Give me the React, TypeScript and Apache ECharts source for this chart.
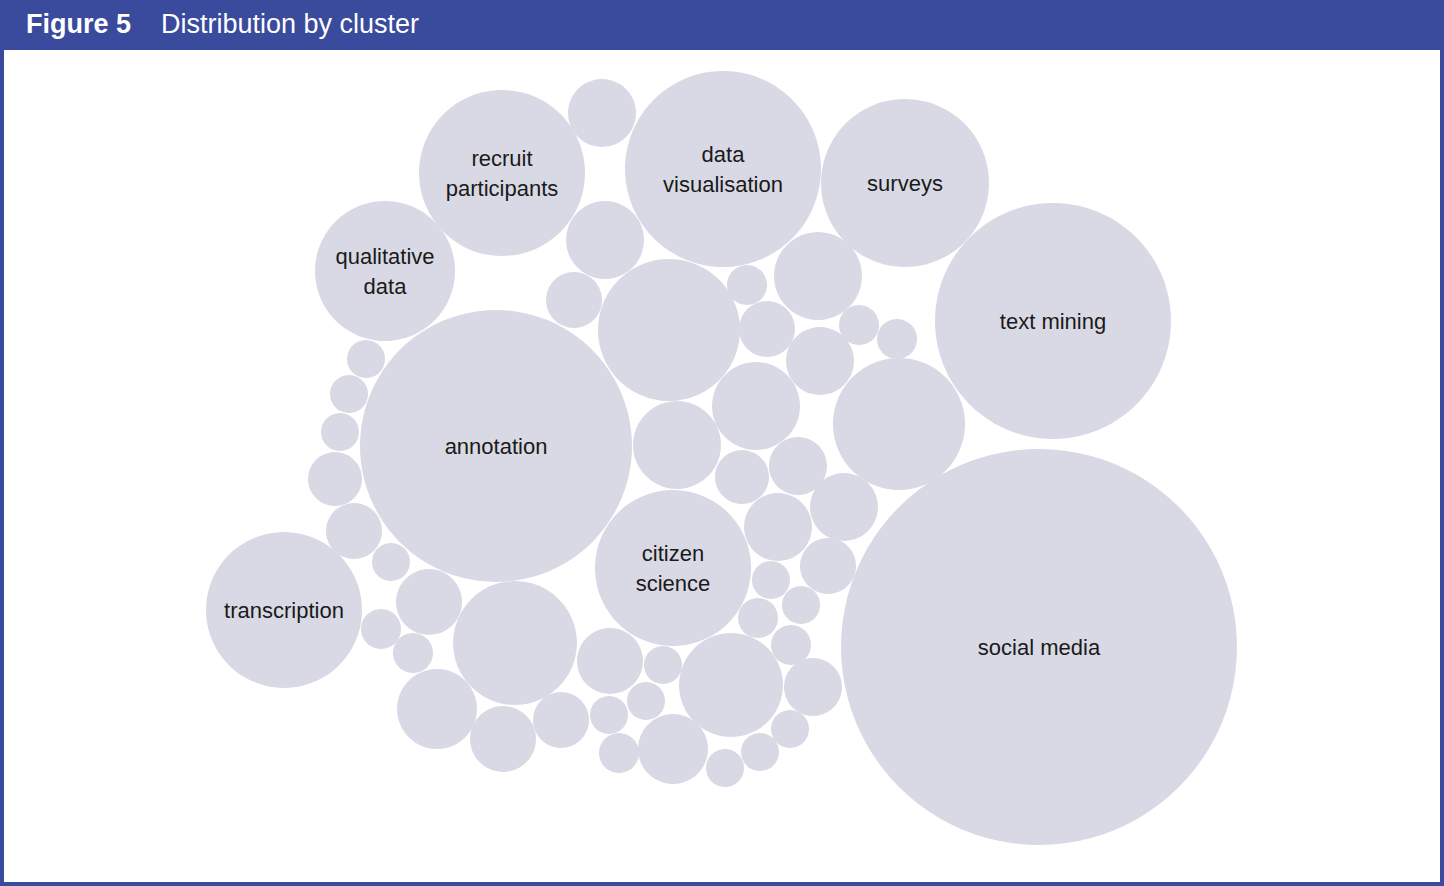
import React, { useEffect, useRef } from 'react';
import * as echarts from 'echarts';

// cluster bubbles: centre (x, y) in chart units, diameter in px
const names = [
  'recruit\nparticipants', '', 'data\nvisualisation', 'surveys', 'qualitative\ndata',
  '', '', '', '', '', '', '', '', '', 'text mining', 'annotation',
  '', '', '', '', '', '', '', '', '', '', '', '', '', 'citizen\nscience',
  '', '', '', '', 'transcription', '', '', '', '', '', '', '', '', '', '', '', '',
  '', '', '', '', '', '', '', 'social media',
];
const xs = [
  502, 602, 723, 905, 385, 605, 574, 669, 747, 818, 767, 859, 897, 820, 1053, 496,
  366, 349, 340, 335, 899, 756, 677, 742, 798, 844, 778, 354, 391, 673,
  828, 771, 801, 758, 284, 429, 381, 413, 515, 610, 663, 731, 791, 813, 646, 609, 437,
  503, 561, 619, 673, 725, 760, 790, 1039,
];
const ys = [
  173, 113, 169, 183, 271, 240, 300, 330, 285, 276, 329, 325, 339, 361, 321, 446,
  359, 394, 432, 479, 424, 406, 445, 477, 466, 507, 527, 531, 562, 568,
  566, 580, 605, 618, 610, 602, 629, 653, 643, 661, 665, 685, 645, 687, 701, 715, 709,
  739, 720, 753, 749, 768, 752, 729, 647,
];
const diameters = [
  166, 68, 196, 168, 140, 78, 56, 142, 40, 88, 56, 40, 40, 68, 236, 272,
  38, 38, 38, 54, 132, 88, 88, 54, 58, 68, 68, 56, 38, 156,
  56, 38, 38, 40, 156, 66, 40, 40, 124, 66, 38, 104, 40, 58, 38, 38, 80,
  66, 56, 40, 70, 38, 38, 38, 396,
];

const W = 1444;
const H = 886;

const App: React.FC = () => {
  const chartRef = useRef<HTMLDivElement>(null);

  useEffect(() => {
    document.body.style.margin = '0';
    if (!chartRef.current) return;
    const chart = echarts.init(chartRef.current, null, { renderer: 'svg' });

    const data = xs.map((x, i) => ({
      name: names[i],
      value: [x, ys[i]],
      symbolSize: diameters[i],
    }));

    chart.setOption({
      animation: false,
      backgroundColor: '#fff',
      grid: { left: 0, top: 0, width: W, height: H },
      xAxis: { type: 'value', min: 0, max: W, show: false },
      yAxis: { type: 'value', min: 0, max: H, inverse: true, show: false },
      graphic: [
        {
          type: 'rect',
          shape: { x: 2, y: 2, width: W - 4, height: H - 4 },
          style: { fill: 'none', stroke: '#3a4a9c', lineWidth: 4 },
          z: 10,
        },
        {
          type: 'rect',
          shape: { x: 0, y: 0, width: W, height: 50 },
          style: { fill: '#3a4a9c' },
          z: 10,
        },
        {
          type: 'text',
          x: 26,
          y: 10,
          style: {
            text: 'Figure 5',
            fill: '#fff',
            font: 'bold 27px "Liberation Sans", Arial, sans-serif',
          },
          z: 11,
        },
        {
          type: 'text',
          x: 161,
          y: 10,
          style: {
            text: 'Distribution by cluster',
            fill: '#fff',
            font: '27px "Liberation Sans", Arial, sans-serif',
          },
          z: 11,
        },
      ],
      series: [
        {
          type: 'scatter',
          symbol: 'circle',
          data,
          itemStyle: { color: '#d9d9e5', opacity: 1 },
          label: {
            show: true,
            position: 'inside',
            formatter: (p: any) => p.name,
            color: '#1a1a1a',
            fontSize: 22,
            lineHeight: 30,
            fontFamily: '"Liberation Sans", Arial, sans-serif',
          },
          emphasis: { disabled: true },
        },
      ],
    });

    return () => {
      chart.dispose();
    };
  }, []);

  return <div ref={chartRef} style={{ width: `${W}px`, height: `${H}px` }} />;
};

export default App;
